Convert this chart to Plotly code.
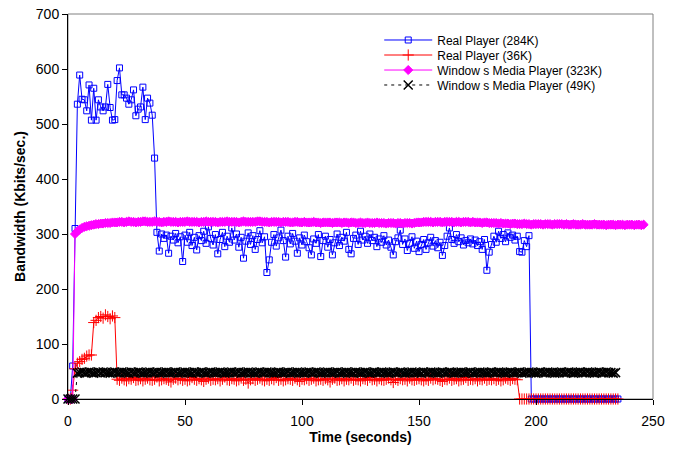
import plotly.graph_objects as go

# ---------------- data ----------------
rp284 = [0, 0, 60, 310,
         536, 589, 545, 544, 524, 571, 507, 565, 507, 544, 531, 524, 531, 572, 530, 507, 508,
         579, 602, 553, 553, 547, 536, 544, 562, 515, 527, 531, 567, 508, 547, 538, 516, 438,
         303, 269, 300, 292, 298, 265, 296, 289, 301, 284, 295, 250, 298, 285, 303, 279, 294, 271,
         297, 288, 305, 283, 313, 292, 280, 299, 264, 290, 303, 277, 296, 285, 311, 289, 300, 276,
         294, 256, 287, 302, 281, 297, 272, 290, 306, 284, 295, 230, 253, 285, 299, 278, 293, 307,
         288, 258, 296, 282, 301, 287, 265, 293, 280, 298, 286, 275, 262, 291, 283, 299, 259, 288,
         296, 276, 290, 262, 284, 300, 279, 294, 287, 303, 272, 264, 292, 298, 281, 305, 289, 296,
         283, 300, 288, 294, 277, 291, 285, 297, 280, 289, 276, 262, 286, 293, 307, 281, 291, 270,
         283, 295, 274, 287, 268, 281, 290, 272, 284, 294, 278, 288, 275, 285, 261, 279, 296, 311,
         290, 283, 299, 286, 293, 280, 288, 284, 291, 282, 289, 279, 286, 272, 290, 234, 267, 281,
         296, 285, 305, 292, 299, 286, 302, 294, 298, 289, 296, 268, 267, 288, 277, 297,
         0, 0, 0, 0, 0, 0, 0, 0, 0, 0, 0, 0, 0, 0, 0, 0, 0, 0, 0, 0,
         0, 0, 0, 0, 0, 0, 0, 0, 0, 0, 0, 0, 0, 0, 0, 0, 0, 0]

rp36 = [0, 0, 16, 55, 65, 68, 72, 74, 78, 80, 80,
        139, 143, 148, 150, 147, 153, 150, 146, 151, 148,
        36, 34, 38, 35, 33, 37, 36, 39, 34, 35,
        37, 33, 36, 38, 35, 34, 36, 40, 33, 35,
        37, 36, 34, 31, 36, 38, 35, 37, 34, 36,
        33, 35, 39, 36, 34, 37, 35, 32, 36, 38,
        34, 36, 35, 37, 33, 36, 40, 35, 34, 37,
        36, 33, 35, 38, 34, 36, 29, 35, 37, 34,
        36, 38, 35, 33, 36, 34, 37, 35, 39, 34,
        36, 33, 35, 37, 36, 34, 38, 35, 32, 36,
        35, 37, 34, 36, 38, 33, 35, 36, 34, 37,
        35, 31, 36, 38, 34, 35, 37, 33, 36, 35,
        38, 34, 36, 35, 33, 37, 36, 34, 39, 35,
        36, 33, 37, 35, 34, 36, 38, 35, 30, 36,
        34, 37, 35, 36, 33, 38, 35, 34, 36, 37,
        35, 33, 36, 34, 38, 35, 37, 36, 34, 32,
        36, 35, 38, 34, 36, 37, 33, 35, 36, 39,
        34, 36, 35, 37, 33, 36, 35, 38, 34, 36,
        35, 37, 34, 36, 33, 35, 38, 36, 34, 37,
        36, 35,
        0, 0, 0, 0, 0, 0, 0, 0, 0, 0, 0, 0, 0, 0, 0, 0, 0, 0, 0, 0, 0,
        0, 0, 0, 0, 0, 0, 0, 0, 0, 0, 0, 0, 0, 0, 0, 0, 0, 0, 0, 0, 0, 0]

wmp323 = [0, 0, 0, 300,
          305, 308, 311, 313, 314, 315, 316, 317, 318, 318, 319, 319, 320, 320, 320, 321, 321,
          321, 322, 322, 321, 322, 323, 322, 322, 321, 322,
          322, 323, 323, 322, 322, 322, 323, 322, 322, 321,
          322, 322, 323, 322, 322, 322, 321, 322, 322, 322,
          323, 322, 322, 322, 322, 321, 322, 322, 323, 322,
          322, 322, 322, 321, 322, 322, 322, 323, 322, 322,
          322, 322, 321, 322, 323, 322, 322, 322, 322, 322,
          323, 323, 322, 322, 322, 321, 322, 322, 322, 322,
          321, 322, 322, 322, 321, 321, 322, 322, 321, 321,
          322, 321, 321, 321, 322, 321, 321, 320, 321, 321,
          321, 321, 320, 321, 321, 321, 320, 321, 321, 320,
          321, 321, 320, 320, 321, 320, 320, 321, 320, 320,
          320, 321, 320, 320, 320, 319, 320, 320, 320, 319,
          320, 320, 319, 320, 320, 320, 319, 320, 321, 321,
          321, 322, 322, 322, 322, 321, 322, 322, 322, 321,
          322, 322, 322, 322, 321, 322, 322, 321, 322, 322,
          322, 321, 322, 321, 321, 321, 320, 321, 321, 320,
          320, 320, 320, 319, 320, 319, 319, 319, 318, 319,
          319, 318, 318, 318, 319, 318, 318, 317, 318, 318,
          318, 318, 317, 318, 318, 318, 317, 318, 318, 318,
          318, 317, 318, 317, 317, 318, 317, 317, 317, 318,
          317, 317, 317, 317, 318, 317, 317, 317, 317, 316,
          317, 317, 317, 316, 317, 317, 317, 316, 317, 317,
          317, 316, 317, 317, 316, 317]

wmp49 = [0, 0, 0, 0, 47,
         48, 49, 48, 48, 49, 48, 47, 48, 49, 48,
         49, 48, 48, 47, 48, 49, 48, 48, 49, 48,
         48, 47, 49, 48, 48, 49, 48, 47, 48, 48,
         49, 48, 48, 49, 47, 48, 48, 49, 48, 48,
         48, 49, 47, 48, 48, 49, 48, 48, 47, 49,
         48, 48, 49, 48, 47, 48, 49, 48, 48, 48,
         49, 48, 47, 48, 48, 49, 48, 48, 49, 47,
         48, 48, 49, 48, 48, 47, 48, 49, 48, 48,
         49, 48, 48, 47, 48, 49, 48, 48, 48, 49,
         47, 48, 48, 49, 48, 48, 47, 48, 49, 48,
         48, 49, 48, 47, 48, 48, 49, 48, 48, 48,
         49, 47, 48, 48, 49, 48, 48, 47, 49, 48,
         48, 48, 49, 48, 47, 48, 49, 48, 48, 49,
         48, 48, 47, 48, 49, 48, 48, 49, 48, 47,
         48, 48, 49, 48, 48, 48, 47, 49, 48, 48,
         49, 48, 48, 47, 48, 49, 48, 48, 49, 48,
         47, 48, 48, 49, 48, 48, 48, 49, 47, 48,
         48, 49, 48, 48, 47, 48, 49, 48, 48, 49,
         48, 48, 47, 48, 49, 48, 48, 48, 49, 47,
         48, 48, 49, 48, 48, 47, 48, 49, 48, 48,
         49, 48, 48, 47, 48, 48, 49, 48, 48, 49,
         48, 47, 48, 48, 49, 48, 48, 49, 48, 48,
         47, 48, 49, 48, 48, 49, 48, 48, 47, 48]

t_rp284 = list(range(len(rp284)))
t_rp36 = list(range(len(rp36)))
t_wmp323 = list(range(len(wmp323)))
t_wmp49 = list(range(len(wmp49)))

names = ["Real Player (284K)", "Real Player (36K)",
         "Window s Media Player (323K)", "Window s Media Player (49K)"]

x_ticks = [0, 50, 100, 150, 200, 250]
y_ticks = [0, 100, 200, 300, 400, 500, 600, 700]

FONT = "Liberation Sans, Arial, sans-serif"

fig = go.Figure()
fig.add_trace(go.Scatter(
    x=t_rp284, y=rp284, name=names[0], mode="lines+markers", legend="legend",
    line=dict(color="#0000FF", width=1),
    marker=dict(symbol="square-open", size=6, color="#0000FF", line=dict(width=1, color="#0000FF")),
    cliponaxis=False))
fig.add_trace(go.Scatter(
    x=t_rp36, y=rp36, name=names[1], mode="lines+markers", legend="legend2",
    line=dict(color="#FF0000", width=1),
    marker=dict(symbol="cross-thin", size=8, color="#FF0000", line=dict(width=1, color="#FF0000")),
    cliponaxis=False))
fig.add_trace(go.Scatter(
    x=t_wmp323, y=wmp323, name=names[2], mode="lines+markers", legend="legend3",
    line=dict(color="#FF00FF", width=1),
    marker=dict(symbol="diamond", size=7, color="#FF00FF", line=dict(width=1, color="#FF00FF")),
    cliponaxis=False))
fig.add_trace(go.Scatter(
    x=t_wmp49, y=wmp49, name=names[3], mode="lines+markers", legend="legend4",
    line=dict(color="#000000", width=1, dash="3px,4px"),
    marker=dict(symbol="x-thin", size=9, color="#000000", line=dict(width=1.5, color="#000000")),
    cliponaxis=False))

legend_rows = [0.9325, 0.8935, 0.8545, 0.8156]
legend_common = dict(x=0.532, xanchor="left", yanchor="middle",
                     bgcolor="rgba(0,0,0,0)", borderwidth=0,
                     font=dict(size=12, family=FONT), itemwidth=48)

fig.update_layout(
    width=680, height=450,
    margin=dict(l=68, r=27, t=14, b=51),
    paper_bgcolor="white", plot_bgcolor="white",
    font=dict(family=FONT, size=14, color="black"),
    showlegend=True, hovermode=False,
    legend=dict(y=legend_rows[0], **legend_common),
    legend2=dict(y=legend_rows[1], **legend_common),
    legend3=dict(y=legend_rows[2], **legend_common),
    legend4=dict(y=legend_rows[3], **legend_common),
    shapes=[dict(type="rect", xref="paper", yref="paper", x0=0, x1=1, y0=0, y1=1,
                 line=dict(color="#808080", width=1), layer="below")],
)
fig.update_xaxes(range=[0, 250], tickvals=x_ticks, ticks="outside", ticklen=5,
                 tickcolor="black", showline=True, linecolor="black", linewidth=1,
                 showgrid=False, zeroline=False, automargin=False,
                 ticklabeloverflow="allow", ticklabelstandoff=4,
                 title=dict(text="<b>Time (seconds)</b>", font=dict(size=14), standoff=4),
                 tickfont=dict(size=14))
fig.update_yaxes(range=[0, 700], tickvals=y_ticks, ticks="outside", ticklen=5,
                 tickcolor="black", showline=True, linecolor="black", linewidth=1,
                 showgrid=False, zeroline=False, automargin=False,
                 ticklabeloverflow="allow",
                 title=dict(text="<b>Bandwidth (Kbits/sec.)</b>", font=dict(size=14), standoff=6),
                 tickfont=dict(size=14))

# remove the default 8px page margin so the figure sits at the window's corner
fig.write_html("out.html", config={"displayModeBar": False, "staticPlot": True},
               post_script="document.body.style.margin='0';")
